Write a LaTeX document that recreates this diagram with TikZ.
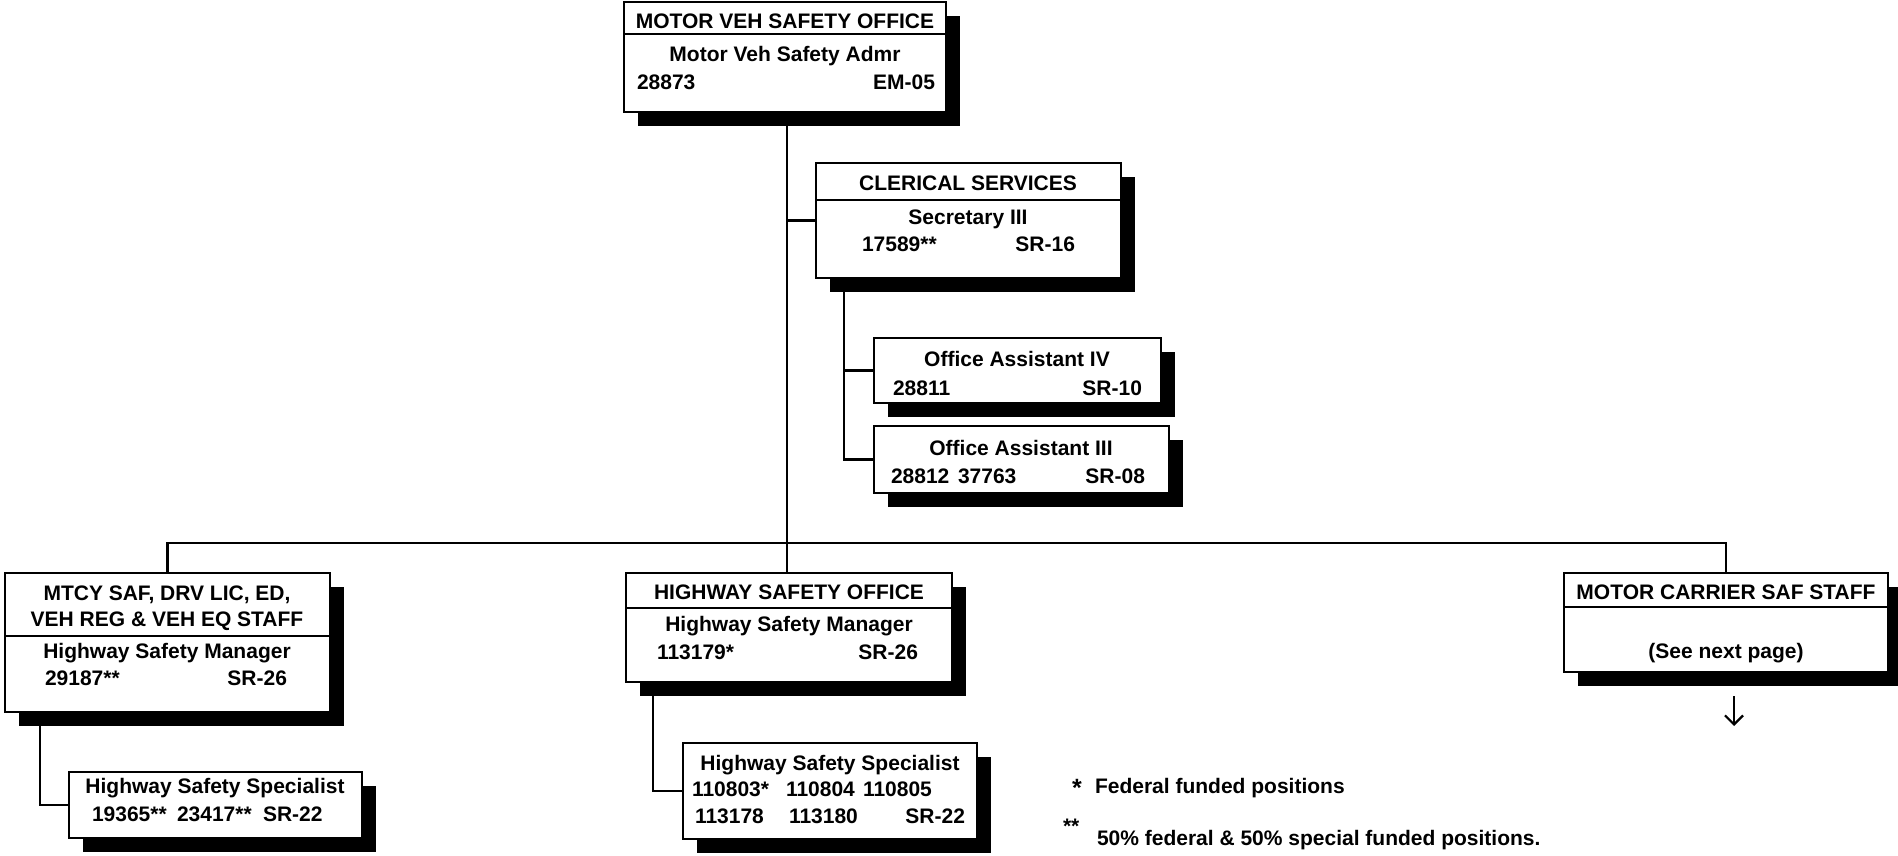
\documentclass[tikz,border=0pt]{standalone}
\usepackage{fontspec}
\setmainfont{Liberation Sans}
\usetikzlibrary{shadows,arrows.meta}
\begin{document}
\begin{tikzpicture}[x=1pt,y=-1pt,
  box/.style={draw, line width=2.5pt, fill=white, inner sep=0pt, outer sep=0pt, anchor=north west,
    drop shadow={shadow xshift=14pt,shadow yshift=-14pt,fill=black,opacity=1}},
  tx/.style={font=\bfseries\fontsize{21}{25}\selectfont, inner sep=0pt, outer sep=0pt, anchor=base},
  txl/.style={tx, anchor=base west},
  txr/.style={tx, anchor=base east},
  conn/.style={line width=2.5pt},
  divline/.style={line width=2.5pt}]
\useasboundingbox (0,0) rectangle (1898,855);

% boxes
\node[box, minimum width=322pt, minimum height=110pt] (mvso) at (624,2) {};
\node[box, minimum width=305pt, minimum height=115pt] (cler) at (816,163) {};
\node[box, minimum width=287pt, minimum height=65pt] (oa4) at (874,338) {};
\node[box, minimum width=295pt, minimum height=67pt] (oa3) at (874,426) {};
\node[box, minimum width=325pt, minimum height=139pt] (mtcy) at (5,573) {};
\node[box, minimum width=326pt, minimum height=109pt] (hso) at (626,573) {};
\node[box, minimum width=324pt, minimum height=99pt] (mcs) at (1564,573) {};
\node[box, minimum width=293pt, minimum height=66pt] (hssl) at (69,772) {};
\node[box, minimum width=294pt, minimum height=96pt] (hssm) at (683,743) {};

% header dividers
\draw[divline] ([yshift=-32pt]mvso.north west) -- ([yshift=-32pt]mvso.north east);
\draw[divline] ([yshift=-37pt]cler.north west) -- ([yshift=-37pt]cler.north east);
\draw[divline] ([yshift=-63pt]mtcy.north west) -- ([yshift=-63pt]mtcy.north east);
\draw[divline] ([yshift=-35pt]hso.north west) -- ([yshift=-35pt]hso.north east);
\draw[divline] ([yshift=-34pt]mcs.north west) -- ([yshift=-34pt]mcs.north east);

% connector points
\coordinate (bus) at (787,543);
\coordinate (clx) at (844,278);
\coordinate (mtx) at (40,712);
\coordinate (hsx) at (653,682);
\coordinate (arrtop) at (1734,696);
\coordinate (arrbot) at (1734,726);

% connectors
\draw[conn] (bus |- mvso.south) -- (bus |- hso.north);
\draw[conn] (cler.west) -- (cler.west -| bus);
\draw[conn] (clx) |- (oa4.west);
\draw[conn] (clx) |- (oa3.west);
\draw[conn] (mtcy.north) -- (mtcy.north |- bus) -- (mcs.north |- bus) -- (mcs.north);
\draw[conn] (mtx) |- (hssl.west);
\draw[conn] (hsx) |- (hssm.west);
\draw[line width=2.2pt, -{Straight Barb[length=9pt,width=18pt,line width=2.2pt]}] (arrtop) -- (arrbot);

% texts: motor veh safety office
\node[tx] (t1a) at (785,28) {MOTOR VEH SAFETY OFFICE};
\node[tx] (t1b) at (785,61) {Motor Veh Safety Admr};
\node[txl] (t1c) at (637,89) {28873};
\node[txr] (t1d) at (935,89) {EM-05};
% clerical
\node[tx] (t2a) at (968,190) {CLERICAL SERVICES};
\node[tx] (t2b) at (968,224) {Secretary III};
\node[txl] (t2c) at (862,251) {17589**};
\node[txr] (t2d) at (1075,251) {SR-16};
% office assistant IV
\node[tx] (t3a) at (1017,366) {Office Assistant IV};
\node[txl] (t3b) at (893,395) {28811};
\node[txr] (t3c) at (1142,395) {SR-10};
% office assistant III
\node[tx] (t4a) at (1021,455) {Office Assistant III};
\node[txl] (t4b) at (891,483) {28812};
\node[txl] (t4c) at (958,483) {37763};
\node[txr] (t4d) at (1145,483) {SR-08};
% mtcy
\node[tx] (t5a) at (167,600) {MTCY SAF, DRV LIC, ED,};
\node[tx] (t5b) at (167,626) {VEH REG \& VEH EQ STAFF};
\node[tx] (t5c) at (167,658) {Highway Safety Manager};
\node[txl] (t5d) at (45,685) {29187**};
\node[txr] (t5e) at (287,685) {SR-26};
% highway safety office
\node[tx] (t6a) at (789,599) {HIGHWAY SAFETY OFFICE};
\node[tx] (t6b) at (789,631) {Highway Safety Manager};
\node[txl] (t6c) at (657,659) {113179*};
\node[txr] (t6d) at (918,659) {SR-26};
% motor carrier
\node[tx] (t7a) at (1726,599) {MOTOR CARRIER SAF STAFF};
\node[tx] (t7b) at (1726,658) {(See next page)};
% hss left
\node[tx] (t8a) at (215,793) {Highway Safety Specialist};
\node[txl] (t8b) at (92,821) {19365**};
\node[txl] (t8c) at (177,821) {23417**};
\node[txl] (t8d) at (263,821) {SR-22};
% hss middle
\node[tx] (t9a) at (830,770) {Highway Safety Specialist};
\node[txl] (t9b) at (692,796) {110803*};
\node[txl] (t9c) at (786,796) {110804};
\node[txl] (t9d) at (863,796) {110805};
\node[txl] (t9e) at (695,823) {113178};
\node[txl] (t9f) at (789,823) {113180};
\node[txr] (t9g) at (965,823) {SR-22};
% footnotes
\node[txl, font=\bfseries\fontsize{25}{28}\selectfont] (f1a) at (1072,796) {*};
\node[txl] (f1b) at (1095,793) {Federal funded positions};
\node[txl] (f2a) at (1063,833) {**};
\node[txl] (f2b) at (1097,845) {50\% federal \& 50\% special funded positions.};
\end{tikzpicture}
\end{document}
